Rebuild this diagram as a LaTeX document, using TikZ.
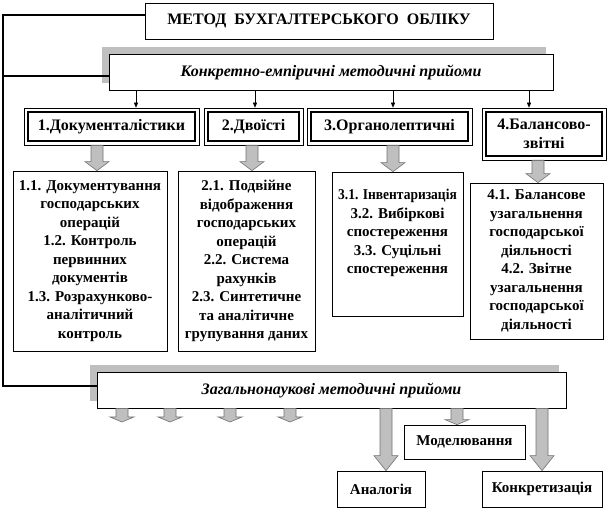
\documentclass[tikz,border=0pt]{standalone}
\usepackage{fontspec}
\usepackage{graphicx}
\setmainfont{Liberation Serif}
\usetikzlibrary{calc,shadows,arrows.meta}

\tikzset{
  txt/.style={font=\bfseries\fontsize{15}{18.5}\selectfont},
  bigtxt/.style={font=\bfseries\fontsize{16}{19}\selectfont},
  box/.style={draw,line width=.7pt,fill=white,align=center,inner sep=0pt,txt},
  shbox/.style={box,font=\bfseries\itshape\fontsize{16}{19}\selectfont,
    drop shadow={shadow xshift=-7pt,shadow yshift=7pt,opacity=1,fill=black!25}},
  catbox/.style={box,bigtxt,line width=.6pt,
    path picture={\draw[line width=2.2pt]
      ([shift={(4pt,-4pt)}]path picture bounding box.north west) rectangle
      ([shift={(-4pt,4pt)}]path picture bounding box.south east);}},
  frameline/.style={line width=2pt},
  thin/.style={line width=.6pt,-{Triangle[length=5pt,width=4pt]}},
  blk/.style={fill=black!25,draw=black!55,line width=.6pt,
    to path={let \p1=(\tikztostart), \p2=(\tikztotarget) in
      (\x1-6pt,\y1) -- (\x1+6pt,\y1) -- (\x1+6pt,\y2+#1) -- (\x1+12pt,\y2+#1)
      -- (\x1,\y2) -- (\x1-12pt,\y2+#1) -- (\x1-6pt,\y2+#1) -- cycle}},
  blk/.default=9pt
}

\begin{document}
\begin{tikzpicture}[x=1pt,y=-1pt]
\useasboundingbox (0,0) rectangle (608,510);

% top of the scheme
\draw (319,21) node[box,bigtxt,minimum width=348pt,minimum height=36pt] (title)
  {МЕТОД\ \ БУХГАЛТЕРСЬКОГО\ \ ОБЛІКУ};
\draw (331,72) node[shbox,minimum width=444pt,minimum height=36pt] (emp)
  {Конкретно-емпіричні методичні прийоми};

% four groups
\draw (111.5,126.5) node[catbox,minimum width=175pt,minimum height=37pt] (cat1) {1.Документалістики};
\draw (253.5,126.5) node[catbox,minimum width=99pt,minimum height=37pt] (cat2) {2.Двоїсті};
\draw (389.5,126.5) node[catbox,minimum width=165pt,minimum height=37pt] (cat3) {3.Органолептичні};
\draw (544,134) node[catbox,minimum width=124pt,minimum height=52pt] (cat4) {4.Балансово-\\звітні};

\draw[thin] (emp.south -| 136,0) -- (cat1.north -| 136,0);
\draw[thin] (emp.south -| 255,0) -- (cat2.north -| 255,0);
\draw[thin] (emp.south -| 393,0) -- (cat3.north -| 393,0);
\draw[thin] (emp.south -| 529,0) -- (cat4.north -| 529,0);

% what each group holds
\draw (90,261) node[box,minimum width=154pt,minimum height=180pt] (cont1)
  {1.1. Документування\\господарських\\операцій\\1.2. Контроль\\первинних\\документів\\1.3. Розрахунково-\\аналітичний\\контроль};
\draw (246.5,261) node[box,minimum width=137pt,minimum height=180pt] (cont2)
  {2.1. Подвійне\\відображення\\господарських\\операцій\\2.2. Система\\рахунків\\2.3. Синтетичне\\та аналітичне\\групування даних};
\draw (397.5,244) node[box,minimum width=131pt,minimum height=144pt] (cont3)
  {\scalebox{.9}[1]{3.1. Інвентаризація}\\3.2. Вибіркові\\спостереження\\3.3. Суцільні\\спостереження\\[6pt]};
\draw (536.5,261) node[box,minimum width=133pt,minimum height=156pt] (cont4)
  {4.1. Балансове\\узагальнення\\господарської\\діяльності\\4.2. Звітне\\узагальнення\\господарської\\діяльності};

\draw[blk] (cat1.south -| 97,0) to (cont1.north -| 97,0);
\draw[blk] (cat2.south -| 252,0) to (cont2.north -| 252,0);
\draw[blk] (cat3.south -| 393,0) to (cont3.north -| 393,0);
\draw[blk] (cat4.south -| 538,0) to (cont4.north -| 538,0);

% general scientific methods
\draw (331.5,390) node[shbox,minimum width=469pt,minimum height=36pt] (gen)
  {Загальнонаукові методичні прийоми};
\draw (464.5,442) node[box,minimum width=121pt,minimum height=34pt] (model) {Моделювання};
\draw (381,489) node[box,minimum width=88pt,minimum height=36pt] (anal) {Аналогія};
\draw (542,489) node[box,minimum width=120pt,minimum height=36pt] (konk) {Конкретизація};

\foreach \px in {122,170,230,290}
  \draw[blk=5pt] (gen.south -| \px,0) to (\px,422);
\draw[blk=5pt] (gen.south -| 457,0) to (model.north -| 457,0);
\draw[blk=15pt] (gen.south -| 386,0) to (anal.north -| 386,0);
\draw[blk=15pt] (gen.south -| 542,0) to (konk.north -| 542,0);

% frame on the left
\draw[frameline] ([yshift=6pt]title.west) -| (3,200) |- ([yshift=4pt]gen.west);
\draw[frameline] (3,76) -- (emp.west |- 3,76);
\end{tikzpicture}
\end{document}
